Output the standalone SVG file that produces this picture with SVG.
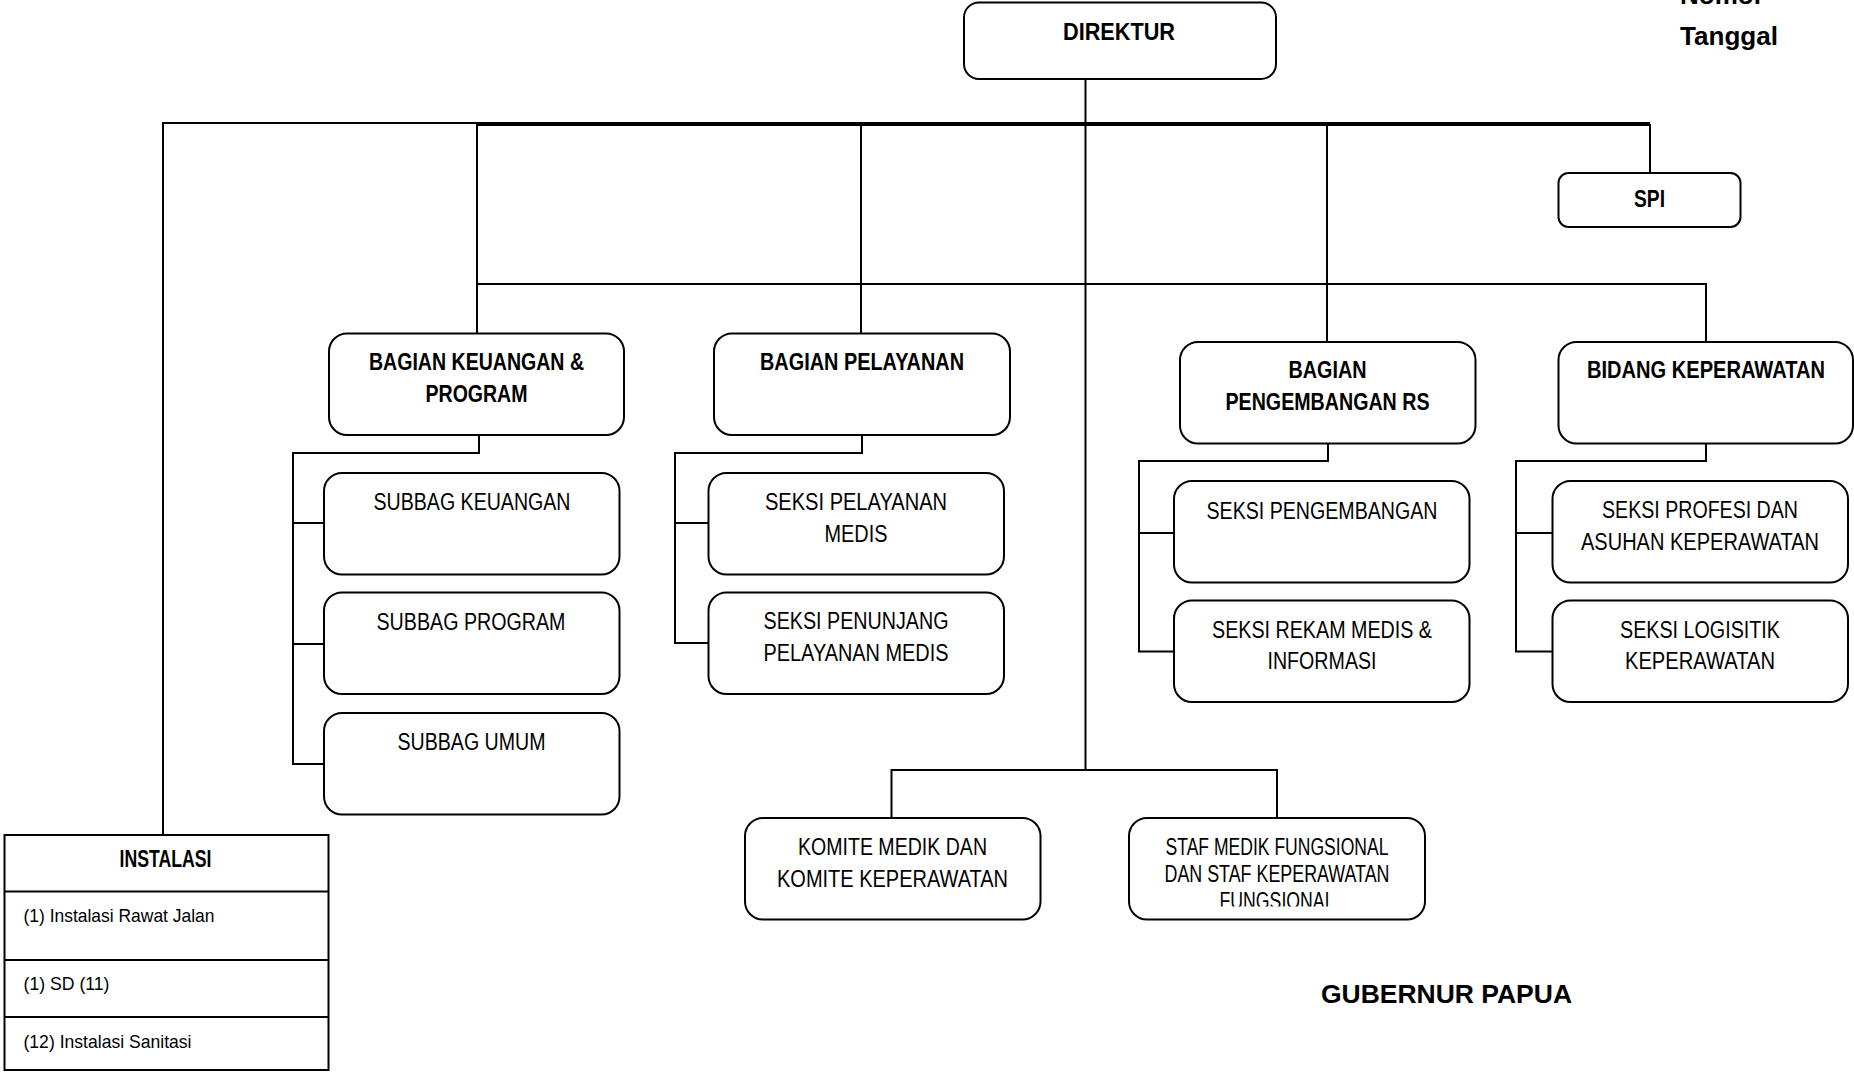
<svg xmlns="http://www.w3.org/2000/svg" width="1854" height="1072" viewBox="0 0 1854 1072">
<style>
.box{fill:#fff;stroke:#000;stroke-width:2}
.ln{fill:none;stroke:#000;stroke-width:2}
.thick{fill:none;stroke:#000;stroke-width:4}
.b{font-family:"Liberation Sans Narrow","Liberation Sans",Arial,sans-serif;font-weight:bold;font-size:23px;fill:#000;text-anchor:middle}
.r{font-family:"Liberation Sans Narrow","Liberation Sans",Arial,sans-serif;font-size:23px;fill:#000;text-anchor:middle}
.s{font-family:"Liberation Sans Narrow","Liberation Sans",Arial,sans-serif;font-size:19px;fill:#000}
.big{font-family:"Liberation Sans",Arial,sans-serif;font-weight:bold;font-size:26px;fill:#000}
</style>
<defs>
<clipPath id="clipStaf"><rect x="1129" y="818" width="296" height="88.5"/></clipPath>
</defs>
<rect width="1854" height="1072" fill="#fff"/>
<g id="connectors">
<path class="ln" d="M163,835 V123 H477"/>
<path class="thick" d="M477,124 H1650"/>
<path class="ln" d="M1650,124 V173"/>
<path class="ln" d="M477,123 V333"/>
<path class="ln" d="M861,124 V333"/>
<path class="ln" d="M1085.5,80 V770"/>
<path class="ln" d="M1327,124 V342"/>
<path class="ln" d="M477,284 H1706 V342"/>
<path class="ln" d="M479,435 V453 H293 V764 H326 M293,523 H326 M293,644 H326"/>
<path class="ln" d="M862,435 V453 H675 V643 H708 M675,523 H708"/>
<path class="ln" d="M1328,443 V461 H1139 V651.5 H1174 M1139,533 H1174"/>
<path class="ln" d="M1706,443 V461 H1516 V651.5 H1552 M1516,533 H1552"/>
<path class="ln" d="M891.5,818 V770 H1277 V818"/>
</g>
<g id="direktur">
<rect class="box" x="964" y="2.5" width="312" height="76.5" rx="15"/>
<text class="b" x="1119" y="40" font-size="22" textLength="112" lengthAdjust="spacingAndGlyphs">DIREKTUR</text>
</g>
<g id="spi">
<rect class="box" x="1558.5" y="173" width="182" height="54" rx="10"/>
<text class="b" x="1649.5" y="206.5" font-size="22" textLength="31" lengthAdjust="spacingAndGlyphs">SPI</text>
</g>
<g id="bagian-keuangan">
<rect class="box" x="329" y="333.5" width="295" height="101.5" rx="18"/>
<text class="b" x="476.5" y="370" textLength="215" lengthAdjust="spacingAndGlyphs">BAGIAN KEUANGAN &amp;</text>
<text class="b" x="476.5" y="402" textLength="102" lengthAdjust="spacingAndGlyphs">PROGRAM</text>
</g>
<g id="bagian-pelayanan">
<rect class="box" x="714" y="333.5" width="296" height="101.5" rx="18"/>
<text class="b" x="862" y="370" textLength="204" lengthAdjust="spacingAndGlyphs">BAGIAN PELAYANAN</text>
</g>
<g id="bagian-pengembangan">
<rect class="box" x="1180" y="342" width="295.5" height="101.5" rx="18"/>
<text class="b" x="1327.5" y="378" textLength="78" lengthAdjust="spacingAndGlyphs">BAGIAN</text>
<text class="b" x="1327.5" y="410" textLength="204" lengthAdjust="spacingAndGlyphs">PENGEMBANGAN RS</text>
</g>
<g id="bidang-keperawatan">
<rect class="box" x="1558.5" y="342" width="294.5" height="101.5" rx="18"/>
<text class="b" x="1706" y="378" textLength="238" lengthAdjust="spacingAndGlyphs">BIDANG KEPERAWATAN</text>
</g>
<g id="subbag-keuangan">
<rect class="box" x="324" y="473" width="295.5" height="101.5" rx="18"/>
<text class="r" x="472" y="509.5" textLength="197" lengthAdjust="spacingAndGlyphs">SUBBAG KEUANGAN</text>
</g>
<g id="subbag-program">
<rect class="box" x="324" y="592.5" width="295.5" height="101.5" rx="18"/>
<text class="r" x="471" y="630" textLength="189" lengthAdjust="spacingAndGlyphs">SUBBAG PROGRAM</text>
</g>
<g id="subbag-umum">
<rect class="box" x="324" y="713" width="295.5" height="101.5" rx="18"/>
<text class="r" x="471.5" y="749.5" textLength="148" lengthAdjust="spacingAndGlyphs">SUBBAG UMUM</text>
</g>
<g id="seksi-pelayanan-medis">
<rect class="box" x="708.5" y="473" width="295.5" height="101.5" rx="18"/>
<text class="r" x="856" y="509.5" textLength="182" lengthAdjust="spacingAndGlyphs">SEKSI PELAYANAN</text>
<text class="r" x="856" y="541.5" textLength="63" lengthAdjust="spacingAndGlyphs">MEDIS</text>
</g>
<g id="seksi-penunjang">
<rect class="box" x="708.5" y="592.5" width="295.5" height="101.5" rx="18"/>
<text class="r" x="856" y="629" textLength="185" lengthAdjust="spacingAndGlyphs">SEKSI PENUNJANG</text>
<text class="r" x="856" y="661" textLength="185" lengthAdjust="spacingAndGlyphs">PELAYANAN MEDIS</text>
</g>
<g id="seksi-pengembangan">
<rect class="box" x="1174" y="481" width="295.5" height="101.5" rx="18"/>
<text class="r" x="1322" y="519" textLength="231" lengthAdjust="spacingAndGlyphs">SEKSI PENGEMBANGAN</text>
</g>
<g id="seksi-rekam-medis">
<rect class="box" x="1174" y="600.5" width="295.5" height="101.5" rx="18"/>
<text class="r" x="1322" y="638" textLength="220" lengthAdjust="spacingAndGlyphs">SEKSI REKAM MEDIS &amp;</text>
<text class="r" x="1322" y="669" textLength="109" lengthAdjust="spacingAndGlyphs">INFORMASI</text>
</g>
<g id="seksi-profesi">
<rect class="box" x="1552.5" y="481" width="295.5" height="101.5" rx="18"/>
<text class="r" x="1700" y="517.5" textLength="196" lengthAdjust="spacingAndGlyphs">SEKSI PROFESI DAN</text>
<text class="r" x="1700" y="549.5" textLength="238" lengthAdjust="spacingAndGlyphs">ASUHAN KEPERAWATAN</text>
</g>
<g id="seksi-logistik">
<rect class="box" x="1552.5" y="600.5" width="295.5" height="101.5" rx="18"/>
<text class="r" x="1700" y="638" textLength="160" lengthAdjust="spacingAndGlyphs">SEKSI LOGISITIK</text>
<text class="r" x="1700" y="669" textLength="150" lengthAdjust="spacingAndGlyphs">KEPERAWATAN</text>
</g>
<g id="komite">
<rect class="box" x="745" y="818" width="295.5" height="101.5" rx="18"/>
<text class="r" x="892.5" y="854.5" textLength="189" lengthAdjust="spacingAndGlyphs">KOMITE MEDIK DAN</text>
<text class="r" x="892.5" y="886.5" textLength="231" lengthAdjust="spacingAndGlyphs">KOMITE KEPERAWATAN</text>
</g>
<g id="staf-medik">
<rect class="box" x="1129" y="818" width="296" height="101.5" rx="18"/>
<g clip-path="url(#clipStaf)">
<text class="r" x="1277" y="855" textLength="223" lengthAdjust="spacingAndGlyphs">STAF MEDIK FUNGSIONAL</text>
<text class="r" x="1277" y="881.5" textLength="225" lengthAdjust="spacingAndGlyphs">DAN STAF KEPERAWATAN</text>
<text class="r" x="1277" y="909" textLength="115" lengthAdjust="spacingAndGlyphs">FUNGSIONAL</text>
</g>
</g>
<g id="instalasi">
<rect x="4.5" y="835" width="324" height="235" fill="#fff" stroke="#000" stroke-width="2"/>
<path class="ln" d="M4.5,891.5 H328.5 M4.5,960 H328.5 M4.5,1017 H328.5"/>
<text class="b" x="165.5" y="866.5" font-size="20" textLength="92" lengthAdjust="spacingAndGlyphs">INSTALASI</text>
<text class="s" x="23.5" y="922" textLength="191" lengthAdjust="spacingAndGlyphs">(1) Instalasi Rawat Jalan</text>
<text class="s" x="23.5" y="989.5" textLength="86" lengthAdjust="spacingAndGlyphs">(1) SD (11)</text>
<text class="s" x="23.5" y="1047.5" textLength="168" lengthAdjust="spacingAndGlyphs">(12) Instalasi Sanitasi</text>
</g>
<g id="header-text">
<text class="big" x="1680" y="4">Nomor</text>
<text class="big" x="1680" y="45" textLength="98" lengthAdjust="spacingAndGlyphs">Tanggal</text>
</g>
<g id="gubernur">
<text class="big" x="1321" y="1002.5" textLength="251" lengthAdjust="spacingAndGlyphs">GUBERNUR PAPUA</text>
</g>
</svg>
